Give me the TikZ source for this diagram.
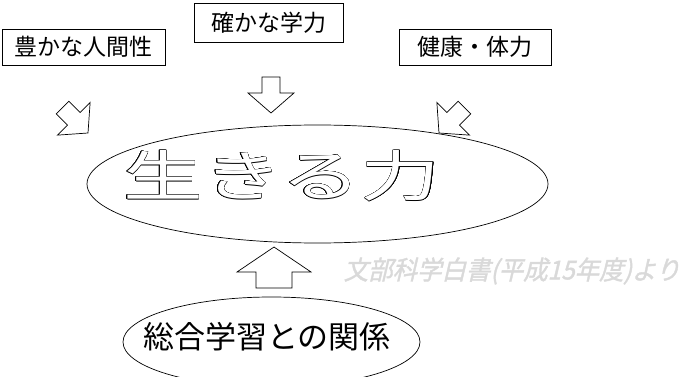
\documentclass[tikz,border=0pt]{standalone}
\usepackage{fontspec}
\usepackage{contour}
\usetikzlibrary{shapes.geometric}

\newfontfamily\jpfont{Noto Sans CJK JP}
\newfontfamily\jpslant[FakeSlant=0.25,FakeBold=1.5]{Noto Sans CJK JP}
\contourlength{0.45pt}

% block arrow: tip, rotation, shaft width, shaft length, head width, head length
\newcommand{\fatarrow}[6]{%
  \draw[arrowline,shift={#1},rotate=#2] (0,0) -- (-#6,#5/2) -- (-#6,#3/2) -- (-#6-#4,#3/2)
    -- (-#6-#4,-#3/2) -- (-#6,-#3/2) -- (-#6,-#5/2) -- cycle;}

\begin{document}
\begin{tikzpicture}[x=1pt,y=-1pt,align=center,
  keybox/.style={draw,line width=0.7pt,inner sep=0pt,font=\jpfont\fontsize{23}{27}\selectfont},
  oval/.style={draw,ellipse,line width=0.7pt,inner sep=0pt},
  arrowline/.style={line width=0.7pt,line join=miter}]

\useasboundingbox (0,0) rectangle (685,377);

\node[keybox,minimum width=163pt,minimum height=36pt] (ningen) at (83.5,47) {豊かな人間性};
\node[keybox,minimum width=149pt,minimum height=39pt] (gakuryoku) at (268.5,22.5) {確かな学力};
\node[keybox,minimum width=152pt,minimum height=36pt] (kenko) at (475,47) {健康・体力};

\fatarrow{(88,133)}{-45}{18}{16}{46}{20}
\fatarrow{(271,113)}{-90}{18}{16}{46}{20}
\fatarrow{(439,133)}{-135}{18}{16}{46}{20}

\node[oval,minimum width=461pt,minimum height=118pt] (ikiru) at (317.5,184) {};
\node[text=white,xscale=1.45,inner sep=0pt,font=\jpfont\fontsize{55}{60}\selectfont]
  (ikirutext) at (282,176) {\contour{black}{生きる力}};

\fatarrow{(274,247)}{90}{36}{16}{74}{25}

\node[text=gray!30,xscale=0.94,inner sep=0pt,font=\jpslant\fontsize{26}{30}\selectfont]
  (source) at (512,271) {文部科学白書(平成15年度)より};

\node[oval,minimum width=297pt,minimum height=90pt] (sogo) at (271.5,342) {};
\node[inner sep=0pt,font=\jpfont\fontsize{31}{36}\selectfont] (sogotext) at (267,337) {総合学習との関係};

\end{tikzpicture}
\end{document}
